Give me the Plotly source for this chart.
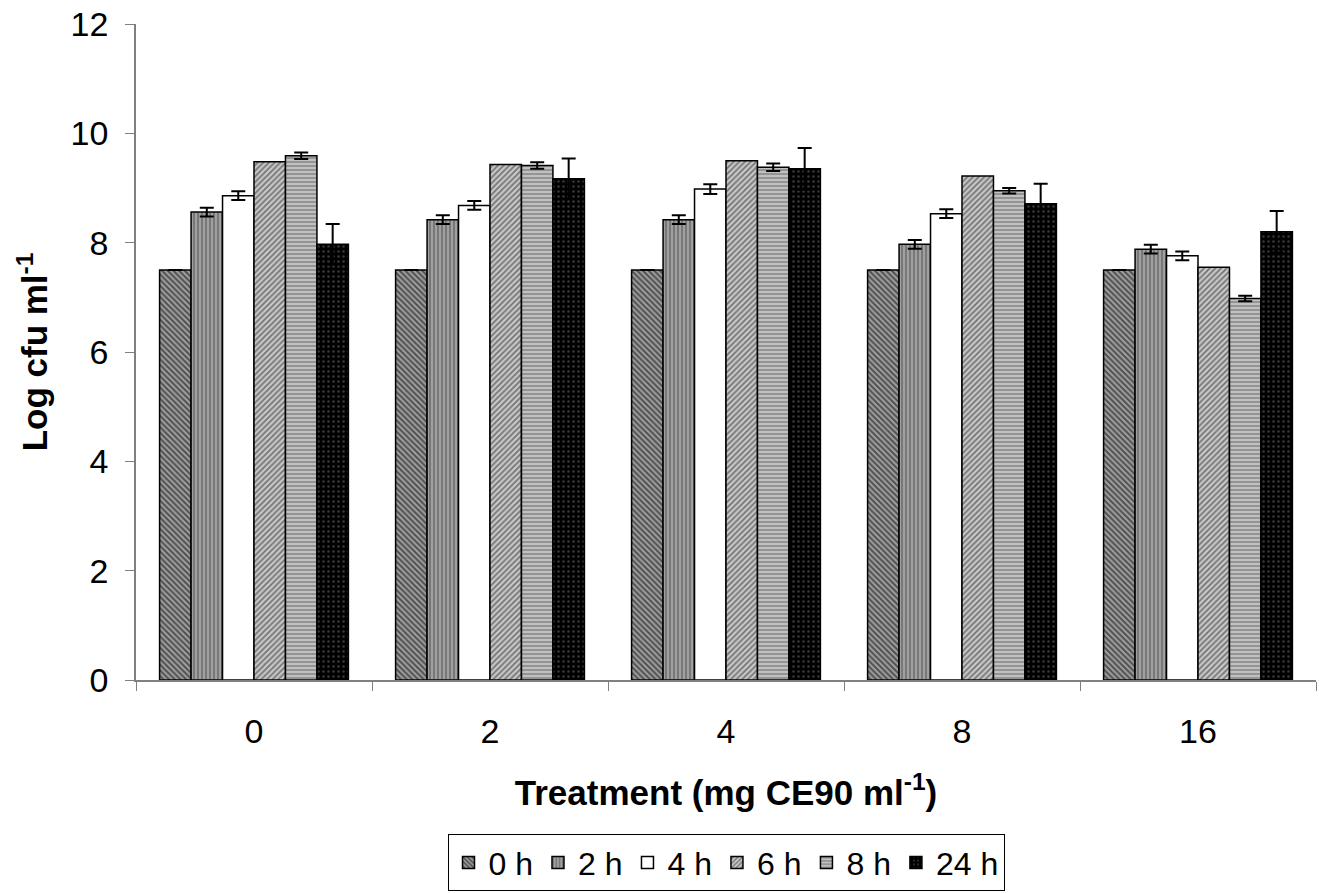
import plotly.graph_objects as go

categories = ["0", "2", "4", "8", "16"]
series_names = ["0 h", "2 h", "4 h", "6 h", "8 h", "24 h"]

v_0h = [7.50, 7.50, 7.50, 7.50, 7.50]
v_2h = [8.56, 8.42, 8.42, 7.97, 7.88]
v_4h = [8.86, 8.68, 8.98, 8.53, 7.76]
v_6h = [9.48, 9.43, 9.50, 9.22, 7.55]
v_8h = [9.59, 9.41, 9.38, 8.95, 6.98]
v_24h = [7.97, 9.17, 9.35, 8.71, 8.20]

e_0h = [0.0, 0.0, 0.0, 0.0, 0.0]
e_2h = [0.08, 0.08, 0.08, 0.08, 0.08]
e_4h = [0.08, 0.08, 0.09, 0.08, 0.08]
e_6h = [None, None, None, None, None]
e_8h = [0.06, 0.06, 0.07, 0.05, 0.05]
e_24h = [0.37, 0.37, 0.38, 0.37, 0.38]

values = [v_0h, v_2h, v_4h, v_6h, v_8h, v_24h]
errors = [e_0h, e_2h, e_4h, e_6h, e_8h, e_24h]

patterns = [
    dict(shape="\\", fgcolor="#000000", bgcolor="#a0a0a0", size=4, solidity=0.5),
    dict(shape="|", fgcolor="#505050", bgcolor="#a0a0a0", size=4, solidity=0.5),
    dict(shape="", bgcolor="#ffffff"),
    dict(shape="/", fgcolor="#202020", bgcolor="#c8c8c8", size=4, solidity=0.45),
    dict(shape="-", fgcolor="#686868", bgcolor="#c0c0c0", size=4, solidity=0.5),
    dict(shape=".", fgcolor="#707070", bgcolor="#000000", size=5, solidity=0.2),
]
colors = ["#a0a0a0", "#a0a0a0", "#ffffff", "#c8c8c8", "#c0c0c0", "#000000"]

fig = go.Figure()
for name, v, e, p, c in zip(series_names, values, errors, patterns, colors):
    has_err = any(x is not None for x in e)
    fig.add_trace(go.Bar(
        x=categories, y=v, name=name,
        marker=dict(color=c, pattern=p, line=dict(color="#000000", width=1.5)),
        error_y=dict(type="data", array=e, visible=has_err, color="#000000",
                     thickness=2, width=7),
    ))

font_family = "Liberation Sans, Arial, sans-serif"
fig.update_layout(
    width=1319, height=893,
    barmode="group", bargap=0.2, bargroupgap=0,
    plot_bgcolor="#ffffff", paper_bgcolor="#ffffff",
    margin=dict(l=136, r=3, t=24, b=212),
    font=dict(family=font_family, size=34, color="#000000"),
    xaxis=dict(
        type="category", tickson="boundaries", ticks="outside", ticklen=9,
        tickcolor="#808080", showline=True, linecolor="#808080", linewidth=1.5,
        showgrid=False, automargin=False, ticklabelstandoff=20,
        title=dict(text="<b>Treatment (mg CE90 ml<sup>-1</sup>)</b>",
                   font=dict(size=35), standoff=32),
        tickfont=dict(size=34),
    ),
    yaxis=dict(
        range=[0, 12], dtick=2, ticks="outside", ticklen=9, tickcolor="#808080",
        showline=True, linecolor="#808080", linewidth=1.5, showgrid=False,
        zeroline=False, automargin=False, ticklabelstandoff=10,
        title=dict(text="<b>Log cfu ml<sup>-1</sup></b>", font=dict(size=35), standoff=12),
        tickfont=dict(size=34),
    ),
    legend=dict(
        orientation="h", x=0.5, xanchor="center", y=-0.32, yanchor="bottom",
        bordercolor="#000000", borderwidth=1, font=dict(size=32),
        itemwidth=30, tracegroupgap=0,
    ),
)

fig.write_html("out.html")
